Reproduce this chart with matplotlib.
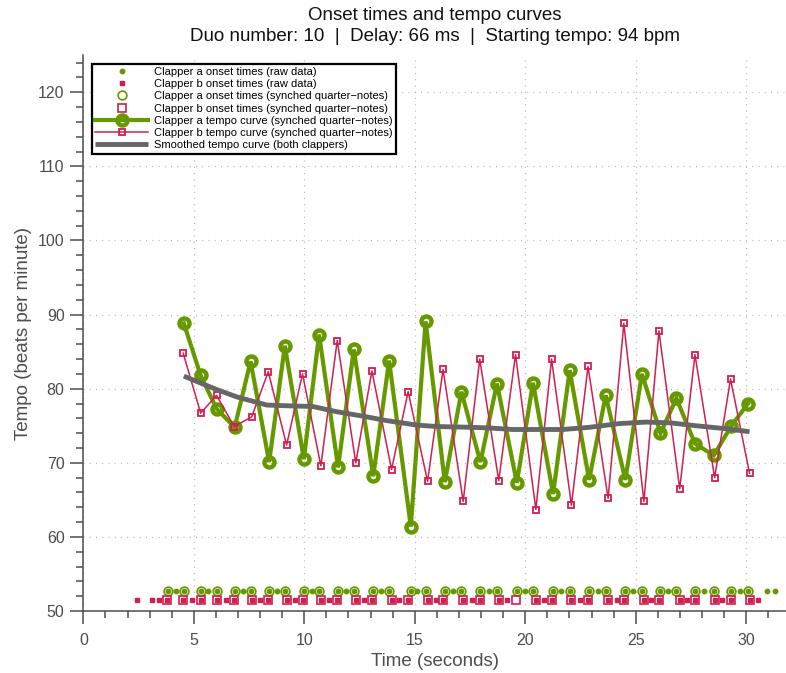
import matplotlib
matplotlib.use("Agg")
import matplotlib.pyplot as plt
from matplotlib.ticker import MultipleLocator

plt.rcParams['font.family'] = ['Liberation Sans', 'DejaVu Sans']

GREEN = '#669900'
RED = '#d11f50'
GRAY = '#666666'
AXIS = '#4d4d4d'

# Clapper a: all detected claps (s) and the claps kept as quarter-notes
raw_a = [3.84, 4.19, 4.55, 5.31, 5.65, 6.03, 6.85, 7.21, 7.57, 8.41, 8.77, 9.12,
         9.98, 10.33, 10.67, 11.53, 11.87, 12.24, 13.12, 13.47, 13.84, 14.82,
         15.12, 15.49, 16.36, 16.74, 17.11, 17.97, 18.36, 18.72, 19.62, 19.99,
         20.35, 21.26, 21.64, 22.01, 22.89, 23.28, 23.64, 24.53, 24.89, 25.28,
         26.12, 26.46, 26.84, 27.68, 28.07, 28.53, 29.33, 29.70, 30.08, 30.94,
         31.32]
synced_a = [3.84, 4.55, 5.31, 6.03, 6.85, 7.57, 8.41, 9.12, 9.98, 10.67, 11.53,
            12.24, 13.12, 13.84, 14.82, 15.49, 16.36, 17.11, 17.97, 18.72, 19.62,
            20.35, 21.26, 22.01, 22.89, 23.64, 24.53, 25.28, 26.12, 26.84, 27.68,
            28.53, 29.33, 30.08]

# Clapper b: all detected claps (s) and the claps kept as quarter-notes
raw_b = [2.44, 3.09, 3.44, 3.80, 4.52, 4.90, 5.31, 6.03, 6.44, 6.83, 7.62, 7.99,
         8.37, 9.20, 9.58, 9.92, 10.75, 11.13, 11.49, 12.33, 12.70, 13.06, 13.95,
         14.29, 14.70, 15.58, 15.95, 16.28, 17.19, 17.57, 17.94, 18.80, 19.18,
         20.48, 20.85, 21.19, 22.09, 22.47, 22.84, 23.75, 24.13, 24.46, 25.37,
         25.71, 26.05, 26.99, 27.34, 27.68, 28.57, 28.92, 29.29, 30.15, 30.53]
synced_b = [3.80, 4.52, 5.31, 6.03, 6.83, 7.62, 8.37, 9.20, 9.92, 10.75, 11.49,
            12.33, 13.06, 13.95, 14.70, 15.58, 16.28, 17.19, 17.94, 18.80, 19.56,
            20.48, 21.19, 22.09, 22.84, 23.75, 24.46, 25.37, 26.05, 26.99, 27.68,
            28.57, 29.29, 30.15]

# Tempo (bpm) at each quarter-note after the first
tempo_a = [88.8, 81.8, 77.3, 74.8, 83.7, 70.1, 85.8, 70.5, 87.3, 69.4, 85.3,
           68.2, 83.8, 61.4, 89.1, 67.4, 79.6, 70.1, 80.7, 67.3, 80.8, 65.8,
           82.5, 67.7, 79.1, 67.7, 82.0, 74.0, 78.7, 72.6, 71.0, 75.0, 78.0]
tempo_b = [84.8, 76.7, 79.1, 74.9, 76.2, 82.3, 72.4, 82.0, 69.6, 86.5, 70.0,
           82.4, 69.1, 79.6, 67.5, 82.6, 64.8, 84.0, 67.6, 84.6, 63.7, 84.0,
           64.3, 83.0, 65.2, 88.8, 64.8, 87.8, 66.5, 84.6, 68.0, 81.3, 68.6]

# Smoothed tempo of both clappers
smooth_t = [4.55, 5.28, 6.03, 6.94, 8.30, 9.20, 10.39, 11.46, 12.65, 13.72,
            15.08, 15.98, 17.49, 18.39, 19.44, 21.70, 22.92, 24.27, 25.48,
            26.54, 27.74, 29.10, 30.15]
smooth_v = [81.7, 80.8, 79.9, 78.9, 77.8, 77.7, 77.6, 76.9, 76.3, 75.7, 75.1,
            74.9, 74.8, 74.7, 74.5, 74.5, 74.8, 75.3, 75.5, 75.4, 75.0, 74.6,
            74.2]

ROW_A = 52.7
ROW_B = 51.5

fig = plt.figure(figsize=(7.86, 6.73), dpi=100)
ax = fig.add_axes([0.106, 0.092, 0.894, 0.826])

ax.plot(raw_a, [ROW_A] * len(raw_a), ls='none', marker='o', ms=3.2,
        color=GREEN, mec=GREEN, label='Clapper a onset times (raw data)')
ax.plot(raw_b, [ROW_B] * len(raw_b), ls='none', marker='s', ms=3.0,
        color=RED, mec=RED, label='Clapper b onset times (raw data)')
ax.plot(synced_a, [ROW_A] * len(synced_a), ls='none', marker='o', ms=6.3,
        mfc='none', mec=GREEN, mew=1.2,
        label='Clapper a onset times (synched quarter\u2212notes)')
ax.plot(synced_b, [ROW_B] * len(synced_b), ls='none', marker='s', ms=5.6,
        mfc='none', mec=RED, mew=1.2,
        label='Clapper b onset times (synched quarter\u2212notes)')
ax.plot(synced_a[1:], tempo_a, color=GREEN, lw=3.0, marker='o', ms=7.2,
        mfc='none', mec=GREEN, mew=3.2, solid_joinstyle='miter',
        label='Clapper a tempo curve (synched quarter\u2212notes)')
ax.plot(synced_b[1:], tempo_b, color=RED, lw=1.1, marker='s', ms=5,
        mfc='none', mec=RED, mew=1.3,
        label='Clapper b tempo curve (synched quarter\u2212notes)')
ax.plot(smooth_t, smooth_v, color=GRAY, lw=3.5, solid_capstyle='butt',
        label='Smoothed tempo curve (both clappers)')

ax.set_xlim(0, 31.8)
ax.set_ylim(50, 125)
ax.xaxis.set_major_locator(MultipleLocator(5))
ax.xaxis.set_minor_locator(MultipleLocator(1))
ax.yaxis.set_major_locator(MultipleLocator(10))
ax.yaxis.set_minor_locator(MultipleLocator(2))

ax.grid(True, which='major', color='#b3b3b3', lw=0.9, ls=(0, (0.8, 4.2)))
ax.set_axisbelow(True)

for side in ('top', 'right'):
    ax.spines[side].set_visible(False)
for side in ('left', 'bottom'):
    ax.spines[side].set_color(AXIS)
    ax.spines[side].set_linewidth(1.1)

ax.tick_params(which='major', direction='out', length=9.5, width=1.1,
               color=AXIS, labelcolor=AXIS, labelsize=11.5)
ax.tick_params(which='minor', direction='out', length=4.8, width=1.1,
               color=AXIS)
ax.tick_params(axis='x', which='major', pad=6)
ax.tick_params(axis='y', which='major', pad=4)

ax.set_xlabel('Time (seconds)', fontsize=13.5, color=AXIS, labelpad=4)
ax.set_ylabel('Tempo (beats per minute)', fontsize=13.5, color=AXIS,
              labelpad=4)
ax.set_title('Onset times and tempo curves\n'
             'Duo number: 10  |  Delay: 66 ms  |  Starting tempo: 94 bpm',
             fontsize=13.5, color='#111111', linespacing=1.33, pad=10)

leg = ax.legend(loc='upper left', fontsize=8, handlelength=4.8,
                handletextpad=0.5, labelspacing=0.2, borderpad=0.3,
                borderaxespad=0.75, fancybox=False, framealpha=1,
                edgecolor='black', numpoints=1)
leg.get_frame().set_linewidth(1.6)

fig.savefig('out.png', dpi=100)
